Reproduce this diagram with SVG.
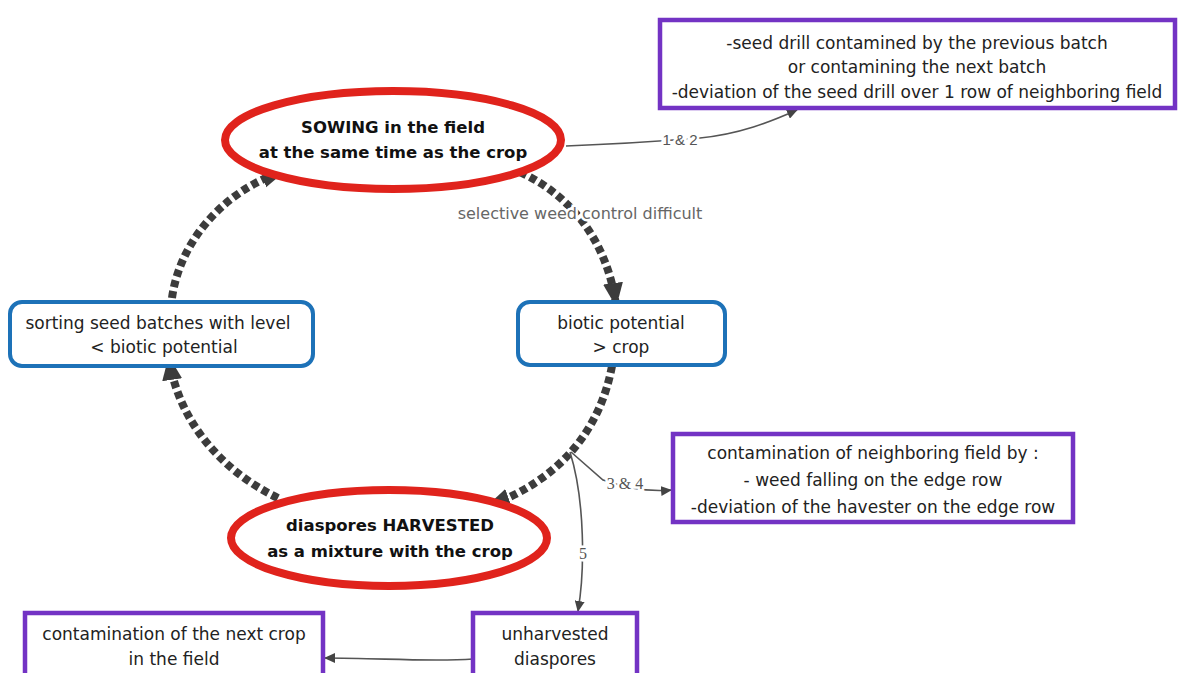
<svg xmlns="http://www.w3.org/2000/svg" width="1186" height="673" viewBox="0 0 1186 673">
<style>
.t{font-family:"DejaVu Sans","Liberation Sans",sans-serif;font-size:17px;fill:#222;text-anchor:middle}
.b{font-family:"DejaVu Sans","Liberation Sans",sans-serif;font-size:16.5px;font-weight:bold;fill:#111;text-anchor:middle}
.lbl{font-family:"DejaVu Sans","Liberation Sans",sans-serif;font-size:16px;fill:#666;text-anchor:middle;stroke:#fff;stroke-width:5;paint-order:stroke}
.num{font-family:"Liberation Serif",serif;font-size:16px;fill:#555;text-anchor:middle;stroke:#fff;stroke-width:5;paint-order:stroke}
.num2{font-family:"Liberation Sans",sans-serif;font-size:15px;fill:#555;text-anchor:middle;stroke:#fff;stroke-width:5;paint-order:stroke}
.ell{fill:#fff;stroke:#e0231c;stroke-width:8}
.blue{fill:#fff;stroke:#1d72b8;stroke-width:4}
.purp{fill:#fff;stroke:#7333c4;stroke-width:4.5}
.dot{fill:none;stroke:#3c3c3c;stroke-width:8;stroke-dasharray:7 4}
.thin{fill:none;stroke:#555;stroke-width:1.6}
</style>
<defs>
<marker id="big" markerUnits="userSpaceOnUse" markerWidth="26" markerHeight="22" refX="22" refY="10" orient="auto">
<path d="M0,0 L24,10 L0,20 Z" fill="#3c3c3c"/>
</marker>
<marker id="sm" markerUnits="userSpaceOnUse" markerWidth="12" markerHeight="10" refX="10" refY="5" orient="auto">
<path d="M0,0 L11,5 L0,10 Z" fill="#444"/>
</marker>
</defs>

<g id="connectors">
<path class="dot" d="M520,172 C570,195 607,240 616,305" marker-end="url(#big)"/>
<path class="dot" d="M612,366 C600,430 560,480 488,506" marker-end="url(#big)"/>
<path class="dot" d="M278,498 C220,470 178,420 169,358" marker-end="url(#big)"/>
<path class="dot" d="M172,298 C180,240 225,190 284,171" marker-end="url(#big)"/>
<path class="thin" d="M566,146 C620,144 650,142 700,138 C740,134 770,122 797,110" marker-end="url(#sm)"/>
<path class="thin" d="M571,452 L603,480 Q640,493 671,490" marker-end="url(#sm)"/>
<path class="thin" d="M570,452 C585,500 585,570 578,611" marker-end="url(#sm)"/>
<path class="thin" d="M473,659 C430,662 380,658 325,658" marker-end="url(#sm)"/>
<text class="lbl" x="580" y="219">selective weed control difficult</text>
<text class="num2" x="680" y="145">1 &amp; 2</text>
<text class="num" x="625" y="489">3 &amp; 4</text>
<text class="num" x="583" y="559">5</text>
</g>

<g id="sowing">
<ellipse class="ell" cx="393" cy="140" rx="168" ry="49"/>
<text class="b" x="393" y="133">SOWING in the field</text>
<text class="b" x="393" y="158">at the same time as the crop</text>
</g>

<g id="biotic">
<rect class="blue" x="518" y="302" width="207" height="63" rx="12"/>
<text class="t" x="621" y="329">biotic potential</text>
<text class="t" x="621" y="353">&gt; crop</text>
</g>

<g id="sorting">
<rect class="blue" x="10" y="302" width="303" height="64" rx="12"/>
<text class="t" x="158" y="329">sorting seed batches with level</text>
<text class="t" x="164" y="353">&lt; biotic potential</text>
</g>

<g id="harvested">
<ellipse class="ell" cx="389" cy="538" rx="158" ry="48"/>
<text class="b" x="390" y="531">diaspores HARVESTED</text>
<text class="b" x="390" y="557">as a mixture with the crop</text>
</g>

<g id="drill">
<rect class="purp" x="660" y="20" width="515" height="88"/>
<text class="t" x="917" y="49">-seed drill contamined by the previous batch</text>
<text class="t" x="917" y="73">or contamining the next batch</text>
<text class="t" x="917" y="98">-deviation of the seed drill over 1 row of neighboring field</text>
</g>

<g id="neighbor">
<rect class="purp" x="673" y="434" width="400" height="88"/>
<text class="t" x="873" y="459">contamination of neighboring field by :</text>
<text class="t" x="873" y="486">- weed falling on the edge row</text>
<text class="t" x="873" y="513">-deviation of the havester on the edge row</text>
</g>

<g id="nextcrop">
<rect class="purp" x="25" y="613" width="298" height="72"/>
<text class="t" x="174" y="640">contamination of the next crop</text>
<text class="t" x="174" y="665">in the field</text>
</g>

<g id="unharvested">
<rect class="purp" x="473" y="613" width="164" height="72"/>
<text class="t" x="555" y="640">unharvested</text>
<text class="t" x="555" y="665">diaspores</text>
</g>
</svg>
